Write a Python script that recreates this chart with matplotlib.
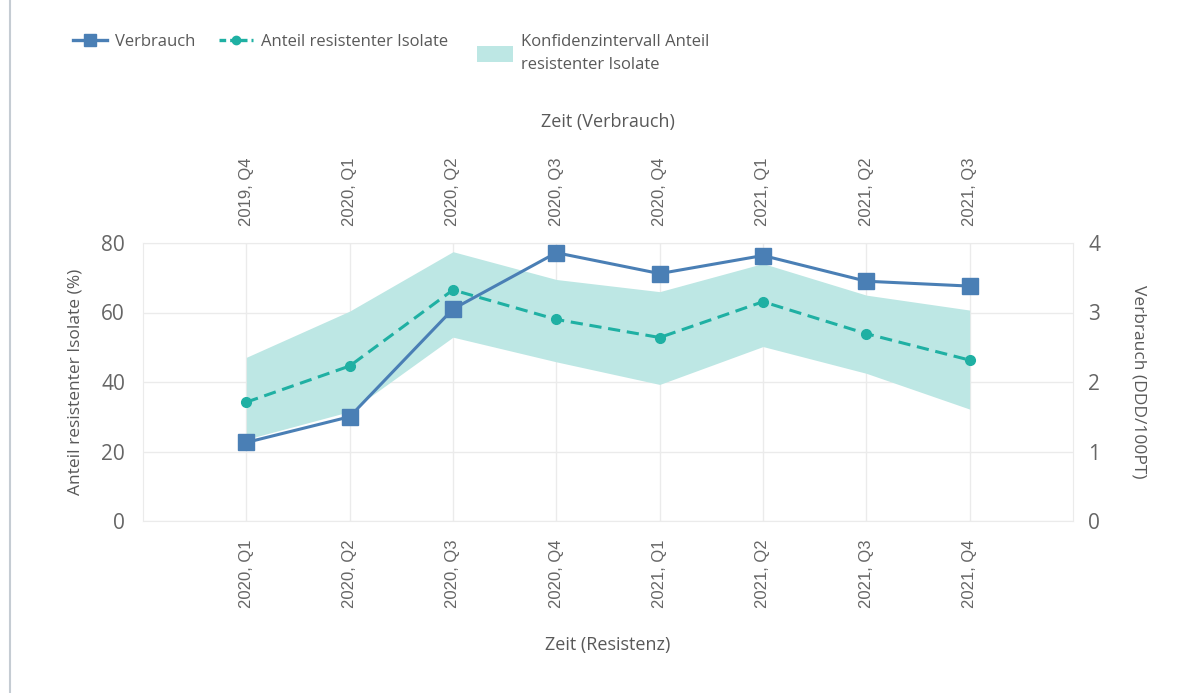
import matplotlib
matplotlib.use("Agg")
import matplotlib.pyplot as plt
from matplotlib.lines import Line2D
from matplotlib.patches import Patch

plt.rcParams['font.family'] = ['Open Sans', 'DejaVu Sans']

# Data
resist_labels = ["2020, Q1", "2020, Q2", "2020, Q3", "2020, Q4",
                 "2021, Q1", "2021, Q2", "2021, Q3", "2021, Q4"]
usage_labels = ["2019, Q4", "2020, Q1", "2020, Q2", "2020, Q3",
                "2020, Q4", "2021, Q1", "2021, Q2", "2021, Q3"]
verbrauch = [1.13, 1.50, 3.05, 3.86, 3.56, 3.82, 3.45, 3.38]
anteil = [34.2, 44.6, 66.5, 58.0, 52.8, 63.1, 53.9, 46.3]
ci_upper = [47.1, 60.4, 77.5, 69.5, 66.0, 74.1, 65.0, 60.7]
ci_lower = [23.5, 31.5, 52.9, 45.8, 39.3, 50.2, 42.5, 32.2]

BLUE = "#4A7FB5"
TEAL = "#1FB0A3"
FILL = "#BDE7E4"
TXT = "#595959"
TICK = "#666666"
GRID = "#EBEBEB"
ROT_FONT = ['Liberation Sans', 'DejaVu Sans']

W, H = 1203, 693
fig = plt.figure(figsize=(W / 100, H / 100), dpi=100)
ax = fig.add_axes([143 / W, 1 - 521 / H, (1073 - 143) / W, (521 - 243) / H])

x = list(range(len(resist_labels)))
ax.fill_between(x, ci_lower, ci_upper, color=FILL, linewidth=0, zorder=1)
ax.plot(x, anteil, color=TEAL, linestyle=(0, (4, 2.2)), linewidth=2.2,
        marker='o', markersize=7, zorder=3)

ax.set_xlim(-1, len(x))
ax.set_ylim(0, 80)
ax.set_yticks([0, 20, 40, 60, 80])
ax.set_xticks(x)
ax.set_xticklabels(resist_labels, rotation=90, color=TICK, fontsize=12, family=ROT_FONT)
ax.grid(True, color=GRID, linewidth=1, zorder=0)
ax.set_axisbelow(True)
ax.tick_params(axis='y', length=0, pad=13, labelsize=15, labelcolor=TICK)
ax.tick_params(axis='x', length=0, pad=13)
for s in ax.spines.values():
    s.set_color(GRID)
ax.set_ylabel("Anteil resistenter Isolate (%)", color=TXT, fontsize=12.5, va='center')
ax.yaxis.set_label_coords((75 - 143) / 930, 0.5)
ax.set_xlabel("Zeit (Resistenz)", color=TXT, fontsize=13, va='center')
ax.xaxis.set_label_coords(0.5, (521 - 645) / 278)

# Top axis: time of consumption
top = ax.twiny()
top.set_xlim(ax.get_xlim())
top.set_xticks(x)
top.set_xticklabels(usage_labels, rotation=90, color=TICK, fontsize=12, family=ROT_FONT)
top.tick_params(axis='x', length=0, pad=12)
for s in top.spines.values():
    s.set_visible(False)
top.set_xlabel("Zeit (Verbrauch)", color=TXT, fontsize=13, va='center')
top.xaxis.set_label_coords(0.5, (521 - 122) / 278)

# Right axis: consumption
ax2 = ax.twinx()
ax2.plot(x, verbrauch, color=BLUE, linewidth=2.2, marker='s', markersize=11, zorder=4)
ax2.set_xlim(ax.get_xlim())
ax2.set_ylim(0, 4)
ax2.set_yticks([0, 1, 2, 3, 4])
ax2.tick_params(axis='y', length=0, pad=11, labelsize=15, labelcolor=TICK)
for s in ax2.spines.values():
    s.set_visible(False)
ax2.set_ylabel("Verbrauch (DDD/100PT)", color=TXT, fontsize=12.5, rotation=270, va='center')
ax2.yaxis.set_label_coords((1138 - 143) / 930, 0.5)

# Legend (two parts: single-line entries aligned with first line of the CI entry)
h1 = [Line2D([], [], color=BLUE, linewidth=2.4, marker='s', markersize=9),
      Line2D([], [], color=TEAL, linewidth=2.4, linestyle=(0, (2, 1.2)), marker='o', markersize=6)]
l1 = ["Verbrauch", "Anteil resistenter Isolate"]
fig.legend(h1, l1, loc='center left', bbox_to_anchor=(73 / W, 1 - 42 / H),
           ncol=2, frameon=False, fontsize=12, labelcolor=TXT, borderpad=0,
           borderaxespad=0, handlelength=2.05, handletextpad=0.45, columnspacing=1.45)

leg2 = fig.legend([Patch(facecolor=FILL, edgecolor='none')],
                  ["Konfidenzintervall Anteil\nresistenter Isolate"],
                  loc='center left', bbox_to_anchor=(477 / W, 1 - 53.5 / H),
                  frameon=False, fontsize=12, labelcolor=TXT, borderpad=0,
                  borderaxespad=0, handlelength=2.15, handleheight=1.05,
                  handletextpad=0.5)
for t in leg2.get_texts():
    t.set_linespacing(1.55)

fig.add_artist(Line2D([10 / W, 10 / W], [0, 1], color="#C5CCD3", linewidth=1.5,
                      transform=fig.transFigure))

fig.savefig("out.png", dpi=100, facecolor='white')
